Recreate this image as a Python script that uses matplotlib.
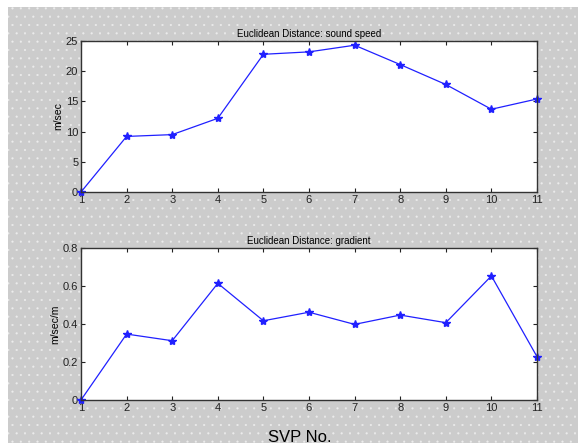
import matplotlib

matplotlib.use("Agg")

import matplotlib.pyplot as plt
from matplotlib.patches import Rectangle

svp_no = [1, 2, 3, 4, 5, 6, 7, 8, 9, 10, 11]
sound_speed = [0.0, 9.2, 9.5, 12.2, 22.8, 23.2, 24.3, 21.1, 17.8, 13.7, 15.4]
gradient = [0.0, 0.347, 0.312, 0.614, 0.417, 0.462, 0.398, 0.447, 0.407, 0.653, 0.228]

plt.rcParams["font.family"] = ["Liberation Sans", "DejaVu Sans"]
plt.rcParams["hatch.linewidth"] = 0.3

fig = plt.figure(figsize=(5.84, 4.47), dpi=100, facecolor="white")

# dotted grey panel behind the axes
bg = Rectangle((8 / 584, 4 / 447), 570 / 584, 436 / 447, transform=fig.transFigure,
               facecolor="#cccccc", edgecolor="#ececec", hatch="..", linewidth=0, zorder=-10)
fig.patches.append(bg)

ax1 = fig.add_axes([81 / 584, 1 - 192 / 447, 456 / 584, 151 / 447])
ax2 = fig.add_axes([81 / 584, 1 - 400 / 447, 456 / 584, 152 / 447])


def style(ax, values, ylim, yticks, yticklabels, title, ylabel):
    ax.plot(svp_no, values, color="#2020ff", linewidth=0.9, marker="*", markersize=6,
            markerfacecolor="#2020ff", markeredgecolor="#2020ff", clip_on=False)
    ax.set_xlim(1, 11)
    ax.set_ylim(*ylim)
    ax.set_xticks(svp_no)
    ax.set_yticks(yticks)
    ax.set_yticklabels(yticklabels)
    ax.tick_params(direction="in", top=True, right=True, labelsize=8, length=3, pad=2, colors="#222222")
    for s in ax.spines.values():
        s.set_linewidth(1.0)
        s.set_color("#333333")
    ax.set_title(title, fontsize=7, pad=3)
    ax.set_ylabel(ylabel, fontsize=7.5, labelpad=2)


style(ax1, sound_speed, (0, 25), [0, 5, 10, 15, 20, 25],
      ["0", "5", "10", "15", "20", "25"], "Euclidean Distance: sound speed", "m/sec")
style(ax2, gradient, (0, 0.8), [0, 0.2, 0.4, 0.6, 0.8],
      ["0", "0.2", "0.4", "0.6", "0.8"], "Euclidean Distance: gradient", "m/sec/m")

fig.text(300 / 584, 1 - 437 / 447, "SVP No.", fontsize=12, ha="center", va="center")

fig.savefig("out.png", dpi=100)
